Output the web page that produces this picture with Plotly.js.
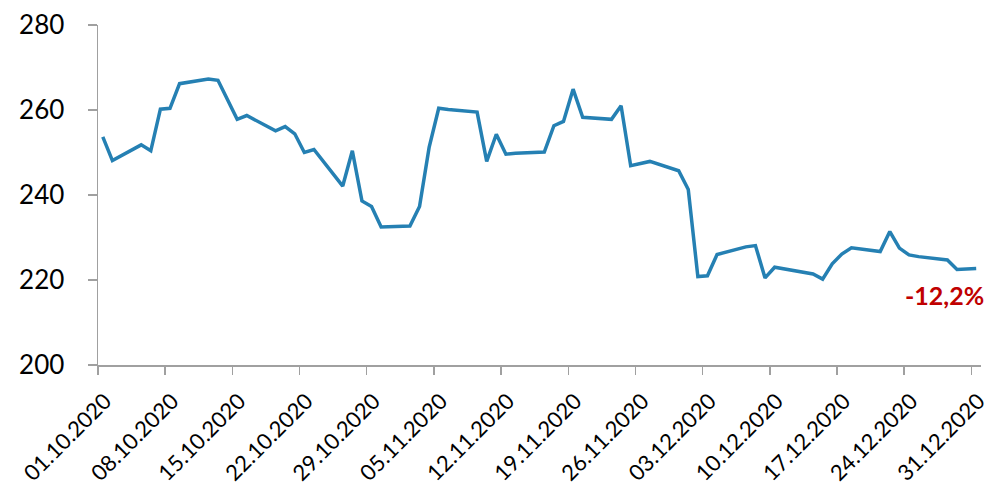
<!DOCTYPE html>
<html>
<head>
<meta charset="utf-8">
<script src="https://cdn.plot.ly/plotly-3.0.1.min.js"></script>
<style>html,body{margin:0;padding:0;background:#fff;}#chart{width:991px;height:491px;}</style>
</head>
<body>
<div id="chart"></div>
<script>
const dates = [
  "2020-10-01","2020-10-02","2020-10-05","2020-10-06","2020-10-07","2020-10-08","2020-10-09",
  "2020-10-12","2020-10-13","2020-10-14","2020-10-15","2020-10-16",
  "2020-10-19","2020-10-20","2020-10-21","2020-10-22","2020-10-23",
  "2020-10-26","2020-10-27","2020-10-28","2020-10-29","2020-10-30",
  "2020-11-02","2020-11-03","2020-11-04","2020-11-05","2020-11-06",
  "2020-11-09","2020-11-10","2020-11-11","2020-11-12","2020-11-13",
  "2020-11-16","2020-11-17","2020-11-18","2020-11-19","2020-11-20",
  "2020-11-23","2020-11-24","2020-11-25","2020-11-26","2020-11-27",
  "2020-11-30","2020-12-01","2020-12-02","2020-12-03","2020-12-04",
  "2020-12-07","2020-12-08","2020-12-09","2020-12-10","2020-12-11",
  "2020-12-14","2020-12-15","2020-12-16","2020-12-17","2020-12-18",
  "2020-12-21","2020-12-22","2020-12-23","2020-12-24","2020-12-25",
  "2020-12-28","2020-12-29","2020-12-30","2020-12-31"
];
const values = [
  253.7,248.1,251.8,250.4,260.2,260.4,266.2,
  267.3,267.0,262.4,257.8,258.7,
  255.1,256.1,254.4,250.0,250.7,
  242.1,250.4,238.6,237.3,232.5,
  232.7,237.3,251.2,260.4,260.1,
  259.5,247.9,254.3,249.6,249.8,
  250.1,256.3,257.3,264.9,258.3,
  257.8,261.0,246.9,247.4,247.9,
  245.7,241.3,220.8,221.0,226.0,
  227.8,228.1,220.5,223.0,222.6,
  221.4,220.2,223.8,226.1,227.6,
  226.7,231.4,227.5,225.9,225.5,
  224.7,222.5,222.5,222.7
];
const tickDates = ["2020-10-01","2020-10-08","2020-10-15","2020-10-22","2020-10-29","2020-11-05","2020-11-12",
  "2020-11-19","2020-11-26","2020-12-03","2020-12-10","2020-12-17","2020-12-24","2020-12-31"];
const tickLabels = ["01.10.2020","08.10.2020","15.10.2020","22.10.2020","29.10.2020","05.11.2020","12.11.2020",
  "19.11.2020","26.11.2020","03.12.2020","10.12.2020","17.12.2020","24.12.2020","31.12.2020"];
const yTicks = [200,220,240,260,280];
const changeLabel = "-12,2%";

// points sit in the middle of each day (between tick marks)
const xs = dates.map(d => d + " 12:00");

const trace = {
  x: xs, y: values, type: "scatter", mode: "lines",
  line: {color: "#2580B3", width: 3.5},
  hoverinfo: "skip"
};

const layout = {
  width: 991, height: 491,
  margin: {l: 98, r: 10, t: 25, b: 126},
  paper_bgcolor: "#fff", plot_bgcolor: "#fff",
  showlegend: false,
  font: {family: "Lato, 'Open Sans', sans-serif", color: "#000"},
  xaxis: {
    type: "date",
    range: ["2020-10-01", "2021-01-01"],
    tickmode: "array", tickvals: tickDates, ticktext: tickLabels,
    tickangle: -45,
    ticks: "outside", ticklen: 8, tickcolor: "#A0A0A0", tickwidth: 1.5,
    showline: true, linecolor: "#A0A0A0", linewidth: 1.5,
    showgrid: false, zeroline: false,
    tickfont: {size: 22, family: "Lato, sans-serif", color: "#000"},
    ticklabelstandoff: 5,
    ticklabelshift: 7
  },
  yaxis: {
    range: [200, 280],
    tickmode: "array", tickvals: yTicks, ticktext: yTicks.map(String),
    ticks: "outside", ticklen: 9, tickcolor: "#A0A0A0", tickwidth: 1.5,
    showline: true, linecolor: "#A0A0A0", linewidth: 1.5,
    showgrid: false, zeroline: false,
    tickfont: {size: 26, family: "Lato, sans-serif", color: "#000"},
    ticklabelstandoff: 18
  },
  annotations: [{
    x: xs[xs.length - 1], y: values[values.length - 1],
    xref: "x", yref: "y",
    text: "<b>" + changeLabel + "</b>",
    showarrow: false,
    xanchor: "right", yanchor: "top",
    xshift: 10, yshift: -9,
    font: {size: 25, color: "#C00000", family: "Lato, sans-serif"}
  }]
};

Plotly.newPlot("chart", [trace], layout, {displayModeBar: false, staticPlot: true});
</script>
</body>
</html>
